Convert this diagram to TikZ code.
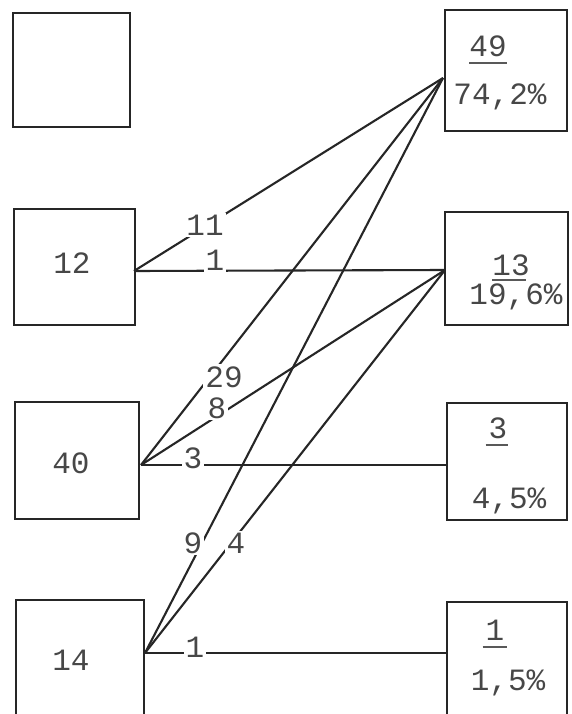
\documentclass[tikz,border=0pt]{standalone}
\usepackage{fontspec}
\setmonofont{Liberation Mono}
\begin{document}
\begin{tikzpicture}[x=1pt,y=-1pt,
  box/.style={draw=black!85, line width=2.4pt, inner sep=0pt},
  conn/.style={draw=black!85, line width=2.1pt},
  num/.style={font=\ttfamily\fontsize{31}{31}\selectfont, text=black!72, inner sep=1pt, anchor=base},
  lab/.style={num, fill=white, inner sep=2pt},
  uline/.style={draw=black!65, line width=1.6pt}]
\clip (0,0) rectangle (571,714);
\fill[white] (0,0) rectangle (571,714);
% left boxes
\node[box, minimum width=117pt, minimum height=114pt] (L1) at (71.5,70) {};
\node[box, minimum width=121pt, minimum height=116pt] (L2) at (74.5,267) {};
\node[box, minimum width=124pt, minimum height=117pt] (L3) at (77,460.5) {};
\node[box, minimum width=128pt, minimum height=140pt] (L4) at (80,670) {};
% right boxes
\node[box, minimum width=122pt, minimum height=121pt] (R1) at (506,70.5) {};
\node[box, minimum width=123pt, minimum height=113pt] (R2) at (506.5,268.5) {};
\node[box, minimum width=120pt, minimum height=117pt] (R3) at (507,461.5) {};
\node[box, minimum width=120pt, minimum height=138pt] (R4) at (507,671) {};
% left texts
\node[num] (t12) at (72,273) {12};
\node[num] (t40) at (71,473) {40};
\node[num] (t14) at (71,670) {14};
% right texts
\node[num] (a1) at (488,57) {49};
\draw[uline] (a1.base west) ++(1,6) -- ++(38,0);
\node[num] (b1) at (500,105) {74,2\%};
\node[num] (a2) at (511,275) {13};
\draw[uline] (a2.base west) ++(1,5) -- ++(34,0);
\node[num] (b2) at (516,304) {19,6\%};
\node[num] (a3) at (498,438) {3};
\draw[uline] (a3.base west) ++(-2,7) -- ++(22,0);
\node[num] (b3) at (509,508) {4,5\%};
\node[num] (a4) at (495,640) {1};
\draw[uline] (a4.base west) ++(-2,7) -- ++(24,0);
\node[num] (b4) at (508,690) {1,5\%};
% junction coordinates
\coordinate (j2) at (134,271);
\coordinate (j3) at (141,465);
\coordinate (j4) at (145,653);
\coordinate (r1) at (443,78);
\coordinate (r2) at (445,270);
\coordinate (r3) at (447,465);
\coordinate (r4) at (447,653);
% connectors
\draw[conn] (j2) -- (r1);
\draw[conn] (j2) -- (r2);
\draw[conn] (j3) -- (r1);
\draw[conn] (j3) -- (r2);
\draw[conn] (j3) -- (r3);
\draw[conn] (j4) -- (r1);
\draw[conn] (j4) -- (r2);
\draw[conn] (j4) -- (r4);
% labels
\node[lab] (n11) at (205,235) {11};
\node[lab] (n1a) at (215,270) {1};
\node[lab] (n29) at (224,387) {29};
\node[lab] (n8) at (217,418) {8};
\node[lab] (n3) at (193,468) {3};
\node[lab] (n9) at (193,553) {9};
\node[lab] (n4) at (236,553) {4};
\node[lab] (n1b) at (195,657) {1};
\end{tikzpicture}
\end{document}
